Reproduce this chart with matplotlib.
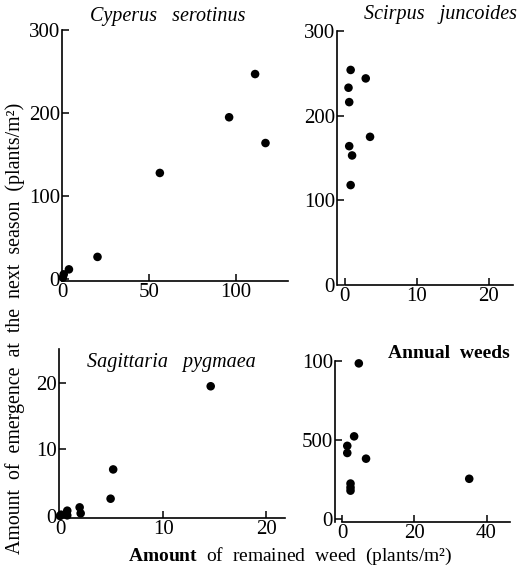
import matplotlib
matplotlib.use("Agg")
import matplotlib.pyplot as plt

plt.rcParams["font.family"] = ["Liberation Serif", "DejaVu Serif"]
plt.rcParams["mathtext.fontset"] = "custom"
plt.rcParams["mathtext.rm"] = "Liberation Serif"
plt.rcParams["mathtext.bf"] = "Liberation Serif:bold"

# Cyperus serotinus
cyp_x = [0.5, 0.0, 3.5, 20.0, 56.0, 96.0, 111.0, 117.0]
cyp_y = [6, 2, 12, 27, 128, 195, 247, 164]

# Scirpus juncoides
sci_x = [0.8, 2.9, 0.5, 0.6, 3.5, 0.6, 1.0, 0.8]
sci_y = [254, 244, 233, 216, 175, 164, 153, 118]

# Sagittaria pygmaea
sag_x = [14.6, 5.15, 4.9, 1.9, 2.0, 0.7, 0.7, 0.1, 0.0]
sag_y = [19.5, 7.0, 2.6, 1.3, 0.4, 0.8, 0.1, 0.2, 0.0]

# Annual weeds
ann_x = [4.6, 3.3, 1.4, 1.4, 6.6, 35.2, 2.3, 2.3, 2.3]
ann_y = [985, 524, 464, 419, 383, 256, 226, 201, 181]

W, H = 518, 569
fig = plt.figure(figsize=(W / 100, H / 100), dpi=100)


def axes_px(left, top, right, bottom):
    return fig.add_axes([left / W, 1 - bottom / H, (right - left) / W, (bottom - top) / H])


def style(ax, xticks, yticks, xlim, ylim, ylabels=None, xstart=None):
    ax.set_xlim(*xlim)
    ax.set_ylim(*ylim)
    for s in ("top", "right"):
        ax.spines[s].set_visible(False)
    for s in ("left", "bottom"):
        ax.spines[s].set_linewidth(1.2)
    if xstart is not None:
        ax.spines["bottom"].set_bounds(xstart, xlim[1])
    ax.set_xticks(xticks)
    ax.set_yticks(yticks)
    if ylabels is not None:
        ax.set_yticklabels(ylabels)
    ax.tick_params(direction="in", length=5, width=1.1, labelsize=15, pad=1.5)
    ax.patch.set_visible(False)


panels = [
    (axes_px(62, 30, 288, 281), cyp_x, cyp_y, [0, 50, 100], [0, 100, 200, 300],
     (-0.5, 130), (-2, 300), None, None),
    (axes_px(337, 31, 513, 285), sci_x, sci_y, [0, 10, 20], [0, 100, 200, 300],
     (-1.1, 23.4), (0, 300), None, 0),
    (axes_px(59, 349, 285, 518), sag_x, sag_y, [0, 10, 20], [0, 10, 20],
     (-0.1, 21.8), (-0.3, 25.1), None, None),
    (axes_px(335, 361, 510, 522), ann_x, ann_y, [0, 20, 40], [0, 500, 1000],
     (-2.0, 46.5), (-17, 1000), ["0", "500", "100"], 0),
]

for ax, xs, ys, xt, yt, xl, yl, ylab, x0 in panels:
    ax.scatter(xs, ys, s=38, color="black", edgecolors="none", clip_on=False, zorder=3)
    style(ax, xt, yt, xl, yl, ylab, x0)

# species names
fig.text(168 / W, 1 - 16 / H, "Cyperus   serotinus", style="italic", fontsize=14.5,
         ha="center", va="center")
fig.text(440 / W, 1 - 14 / H, "Scirpus   juncoides", style="italic", fontsize=14.5,
         ha="center", va="center")
fig.text(171 / W, 1 - 363 / H, "Sagittaria   pygmaea", style="italic", fontsize=14.5,
         ha="center", va="center")
fig.text(449 / W, 1 - 353 / H, "Annual  weeds", fontsize=14, fontweight="bold",
         ha="center", va="center")

# axis titles
fig.text(15 / W, 1 - 328 / H,
         "Amount  of  emergence  at  the  next  season  (plants/m²)",
         rotation=90, fontsize=14.3, ha="center", va="center")
fig.text(290 / W, 1 - 556 / H, r"$\mathbf{Amount}$  of  remained  weed  (plants/m²)",
         fontsize=14, ha="center", va="center")

fig.savefig("out.png", dpi=100)
